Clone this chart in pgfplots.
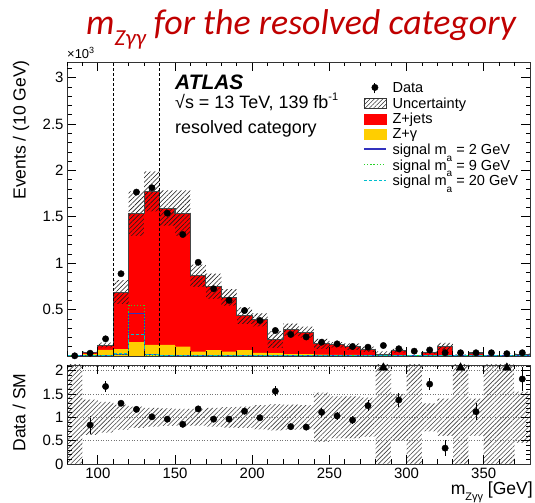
\documentclass[border=0pt]{standalone}
\usepackage{fontspec}
\setmainfont{Liberation Sans}
\newfontfamily\titlefont{Carlito}
\usepackage{pgfplots}
\pgfplotsset{compat=1.18}
\usepackage{pgfplotstable}
\usetikzlibrary{patterns.meta}

\definecolor{zjred}{RGB}{255,0,0}
\definecolor{zgyellow}{RGB}{255,206,0}
\definecolor{sigblue}{RGB}{50,50,190}
\definecolor{siggreen}{RGB}{40,210,40}
\definecolor{sigcyan}{RGB}{0,190,205}
\definecolor{titlered}{RGB}{192,0,0}
\definecolor{stackline}{RGB}{70,70,70}

% Background stack per 10 GeV bin, in 10^3 events.
% x = lower bin edge; the last row repeats the final bin to close the steps.
% tot = Z+jets + Z+gamma, zg = Z+gamma, err = absolute uncertainty,
% sa/sb/sc = signal m_a = 2/9/20 GeV, rel = relative uncertainty in the ratio
\pgfplotstableread{
x   tot    zg     err    sa     sb     sc     rel
80  0.003  0.001  0.002  0      0      0      9
90  0.038  0.020  0.010  0      0      0      0.38
100 0.118  0.065  0.025  0.002  0.002  0.004  0.33
110 0.688  0.075  0.130  0.020  0.015  0.030  0.27
120 1.534  0.150  0.240  0.455  0.545  0.230  0.23
130 1.775  0.120  0.215  0.012  0.008  0.015  0.20
140 1.595  0.120  0.190  0      0      0.003  0.19
150 1.540  0.100  0.245  0      0      0      0.18
160 0.865  0.048  0.120  0      0      0      0.18
170 0.752  0.064  0.135  0      0      0      0.20
180 0.632  0.048  0.090  0      0      0      0.22
190 0.435  0.064  0.090  0      0      0      0.23
200 0.390  0.034  0.070  0      0      0      0.26
210 0.178  0.030  0.090  0      0      0      0.28
220 0.285  0.020  0.065  0      0      0      0.27
230 0.257  0.020  0.060  0      0      0      0.26
240 0.130  0.015  0.055  0      0      0      0.53
250 0.120  0.012  0.030  0      0      0      0.45
260 0.100  0.012  0.035  0      0      0      0.45
270 0.072  0.010  0.030  0      0      0      0.42
280 0.020  0.010  0.030  0      0      0      9
290 0.056  0.008  0.020  0      0      0      0.50
300 0      0      0      0      0      0      9
310 0.036  0.006  0.010  0      0      0      0.30
320 0.102  0.006  0.040  0      0      0      0.40
330 0.008  0.004  0.010  0      0      0      9
340 0.032  0.005  0.010  0      0      0      0.40
350 0      0      0      0      0      0      9
360 0.005  0.003  0.005  0      0      0      9
370 0.018  0.003  0.008  0      0      0      0.55
380 0.018  0.003  0.008  0      0      0      0.55
}\bkg

% Observed events per bin (10^3), at bin centres
\pgfplotstableread{
x   d
85  0.002
95  0.030
105 0.185
115 0.887
125 1.767
135 1.814
145 1.540
155 1.310
165 1.010
175 0.725
185 0.600
195 0.490
205 0.383
215 0.275
225 0.232
235 0.205
245 0.149
255 0.131
265 0.102
275 0.095
285 0.113
295 0.078
305 0.052
315 0.065
325 0.035
335 0.035
345 0.035
355 0.035
365 0.025
375 0.035
}\obs

% Data / SM with statistical errors
\pgfplotstableread{
x   r      e
95  0.835  0.20
105 1.66   0.12
115 1.30   0.05
125 1.17   0.03
135 1.01   0.03
145 0.96   0.03
155 0.85   0.03
165 1.18   0.04
175 0.96   0.04
185 0.96   0.04
195 1.13   0.05
205 0.99   0.05
215 1.56   0.10
225 0.80   0.05
235 0.79   0.06
245 1.107  0.09
255 1.03   0.09
265 0.94   0.09
275 1.25   0.12
295 1.37   0.15
315 1.71   0.13
325 0.34   0.17
345 1.12   0.18
375 1.82   0.25
}\ratio

% bins whose ratio lies above the panel
\pgfplotstableread{
x   r
285 2.06
335 2.06
365 2.06
}\overflow

\pgfplotsset{
  atlasframe/.style={
    scale only axis, width=463bp,
    xmin=80, xmax=380,
    axis line style={line width=0.8bp, black!80},
    xtick style={black, line width=0.8bp},
    ytick style={black, line width=0.8bp},
    tick align=inside,
    xtick={100,150,...,350},
    minor x tick num=4,
    extra x ticks={80,90,360,370},
    extra x tick labels={},
    extra x tick style={major tick length=4.5bp},
    major tick length=9bp, minor tick length=4.5bp,
    /pgf/number format/assume math mode=true,
    ticklabel style={font=\fontsize{15}{15}\selectfont},
    axis on top,
  },
  hatch/.style={draw=none, pattern={Lines[angle=45,distance=3.2bp,line width=0.6bp]}, pattern color=#1},
}

\begin{document}
\begin{tikzpicture}
% page frame
\path (0,0) rectangle (535bp,503bp);

% ---------------- upper panel ----------------
\begin{axis}[atlasframe,
  at={(67bp,147bp)}, anchor=south west, height=294bp,
  ymin=0, ymax=3.17,
  ytick={0,0.5,...,3},
  yticklabels={,0.5,1,1.5,2,2.5,3},
  minor y tick num=4,
  extra y ticks={3.1}, extra y tick labels={},
  extra y tick style={major tick length=4.5bp},
  xticklabels={},
  legend style={at={(0.633,0.944)}, anchor=north west, draw=none, fill=none,
    font=\fontsize{14.6}{15}\selectfont, row sep=-0.4bp,
    /tikz/every odd column/.append style={column sep=4bp}},
  legend cell align=left,
]
\addlegendimage{legend image code/.code={
  \draw[black, line width=0.9bp] (11bp,-5bp) -- (11bp,5bp);
  \fill[black] (11bp,0) circle (3.2bp);}}
\addlegendentry{Data}
\addlegendimage{legend image code/.code={
  \draw[black!80, line width=0.6bp, pattern={Lines[angle=45,distance=3bp,line width=0.6bp]}, pattern color=black!80]
    (0,-5bp) rectangle (22bp,5bp);}}
\addlegendentry{Uncertainty}
\addlegendimage{legend image code/.code={\fill[zjred] (0,-5.5bp) rectangle (22bp,5.5bp);}}
\addlegendentry{Z+jets}
\addlegendimage{legend image code/.code={\fill[zgyellow] (0,-5.5bp) rectangle (22bp,5.5bp);}}
\addlegendentry{Z+γ}
\addlegendimage{legend image code/.code={\draw[sigblue, line width=1.3bp] (0,0) -- (22bp,0);}}
\addlegendentry{signal m\raisebox{-0.45em}{\fontsize{10}{10}\selectfont a} = 2 GeV}
\addlegendimage{legend image code/.code={\draw[siggreen, line width=1.2bp, dotted] (0,0) -- (22bp,0);}}
\addlegendentry{signal m\raisebox{-0.45em}{\fontsize{10}{10}\selectfont a} = 9 GeV}
\addlegendimage{legend image code/.code={\draw[sigcyan, line width=1.2bp, dash pattern=on 3bp off 2bp] (0,0) -- (22bp,0);}}
\addlegendentry{signal m\raisebox{-0.45em}{\fontsize{10}{10}\selectfont a} = 20 GeV}

% stacked backgrounds
\addplot[fill=zjred, draw=none, const plot, forget plot] table[x=x, y=tot]{\bkg} \closedcycle;
\addplot[fill=zgyellow, draw=none, const plot, forget plot] table[x=x, y=zg]{\bkg} \closedcycle;

% uncertainty band: hatch up to tot+err, then restore the stack below tot-err
\addplot[hatch=black!90, const plot, forget plot] table[x=x, y expr=\thisrow{tot}+\thisrow{err}]{\bkg} \closedcycle;
\addplot[fill=zjred, draw=none, const plot, forget plot] table[x=x, y expr=\thisrow{tot}-\thisrow{err}]{\bkg} \closedcycle;
\addplot[fill=zgyellow, draw=none, const plot, forget plot] table[x=x, y=zg]{\bkg} \closedcycle;

% outline of the total
\addplot[stackline, line width=1.1bp, const plot, forget plot] table[x=x, y=tot]{\bkg};

% signal hypotheses
\addplot[sigblue, line width=1.1bp, const plot, forget plot] table[x=x, y=sa]{\bkg};
\addplot[siggreen, line width=1.1bp, dotted, const plot, forget plot] table[x=x, y=sb]{\bkg};
\addplot[sigcyan, line width=1.1bp, dash pattern=on 3bp off 2bp, const plot, forget plot] table[x=x, y=sc]{\bkg};

% mass window
\addplot[black, line width=0.8bp, dash pattern=on 3bp off 2bp, forget plot] coordinates {(110,0) (110,3.17)};
\addplot[black, line width=0.8bp, dash pattern=on 3bp off 2bp, forget plot] coordinates {(140,0) (140,3.17)};

% data
\addplot[only marks, mark=*, mark size=3.2bp, black, forget plot] table[x=x, y=d]{\obs};
\end{axis}

% ---------------- ratio panel ----------------
\begin{axis}[atlasframe,
  at={(67bp,39bp)}, anchor=south west, height=99bp,
  ymin=0, ymax=2.12,
  ytick={0,0.5,...,2},
  minor y tick num=4,
  extra y ticks={2.1}, extra y tick labels={},
  extra y tick style={major tick length=4.5bp},
  ymajorgrids, major grid style={black!55, line width=0.6bp, dotted},
  xticklabel style={yshift=-1bp},
]
% relative uncertainty: hatch up to 1+rel, then clear below 1-rel
\addplot[hatch=black!75, const plot] table[x=x, y expr={1+\thisrow{rel}}]{\bkg} \closedcycle;
\addplot[fill=white, draw=none, const plot] table[x=x, y expr={max(1-\thisrow{rel},0)}]{\bkg} \closedcycle;

\addplot[only marks, mark=*, mark size=3.2bp, black,
  error bars/.cd, y dir=both, y explicit, error bar style={line width=0.9bp, black}, error mark=none]
  table[x=x, y=r, y error=e]{\ratio};
\addplot[only marks, mark=triangle*, mark size=5bp, black] table[x=x, y=r]{\overflow};
\end{axis}

% ---------------- labels ----------------
\node[anchor=base east, inner sep=0, text=titlered,
  font=\titlefont\itshape\fontsize{36}{36}\selectfont] at (516bp,468bp)
  {m\raisebox{-0.28em}{\fontsize{23}{23}\selectfont Zγγ} for the resolved category};

\node[anchor=base west, inner sep=0, font=\fontsize{13}{13}\selectfont] at (67bp,444bp) {×10\raisebox{0.45em}{\fontsize{9}{9}\selectfont 3}};

\node[rotate=90, anchor=east, inner sep=0, font=\fontsize{17.6}{17.6}\selectfont] at (21bp,443bp) {Events / (10 GeV)};
\node[rotate=90, anchor=center, inner sep=0, font=\fontsize{17.6}{17.6}\selectfont] at (19bp,90.5bp) {Data / SM};
\node[anchor=base east, inner sep=0, font=\fontsize{17.6}{17.6}\selectfont] at (533bp,9bp)
  {m\raisebox{-0.35em}{\fontsize{11}{11}\selectfont Zγγ} [GeV]};

\node[anchor=base west, inner sep=0, font=\bfseries\itshape\fontsize{21}{21}\selectfont] at (175bp,413bp) {ATLAS};
\node[anchor=base west, inner sep=0, font=\fontsize{18}{18}\selectfont] at (175bp,394bp)
  {√s = 13 TeV, 139 fb\raisebox{0.5em}{\fontsize{11}{11}\selectfont -1}};
\node[anchor=base west, inner sep=0, font=\fontsize{18}{18}\selectfont] at (175bp,369bp) {resolved category};
\end{tikzpicture}
\end{document}
